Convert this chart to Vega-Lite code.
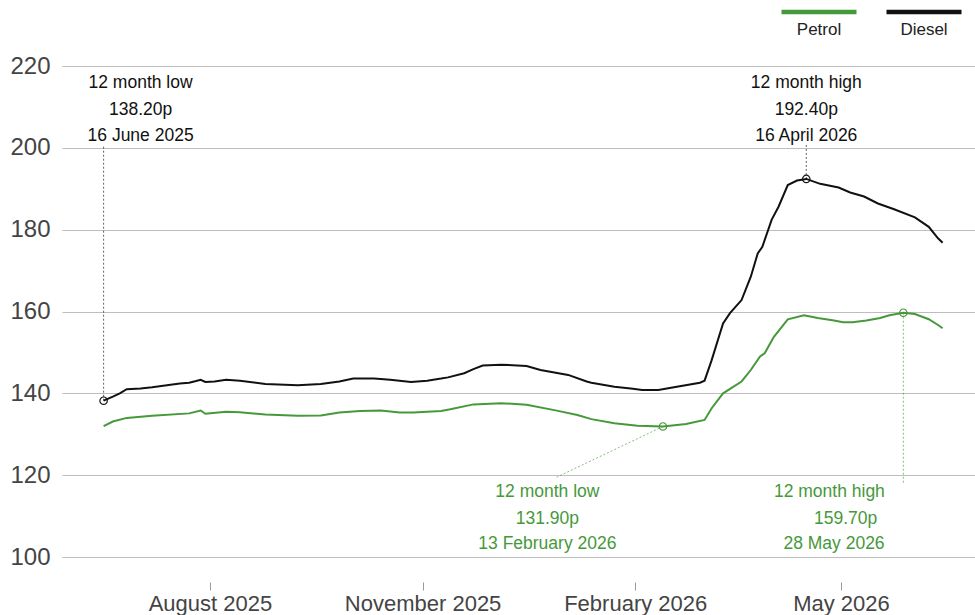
{
  "$schema": "https://vega.github.io/schema/vega-lite/v6.json",
  "width": 913,
  "height": 491,
  "autosize": {"type": "none"},
  "padding": {"left": 62, "top": 66, "right": 0, "bottom": 58},
  "background": "white",
  "config": {
    "view": {"stroke": null},
    "font": "Liberation Sans"
  },
  "datasets": {
    "prices": [
      {"fuel": "Diesel", "date": "2025-06-16", "price": 138.2},
      {"fuel": "Diesel", "date": "2025-06-20", "price": 139.2},
      {"fuel": "Diesel", "date": "2025-06-23", "price": 140.0},
      {"fuel": "Diesel", "date": "2025-06-26", "price": 141.0},
      {"fuel": "Diesel", "date": "2025-07-02", "price": 141.2},
      {"fuel": "Diesel", "date": "2025-07-07", "price": 141.5},
      {"fuel": "Diesel", "date": "2025-07-19", "price": 142.4},
      {"fuel": "Diesel", "date": "2025-07-23", "price": 142.6},
      {"fuel": "Diesel", "date": "2025-07-26", "price": 143.0},
      {"fuel": "Diesel", "date": "2025-07-28", "price": 143.3},
      {"fuel": "Diesel", "date": "2025-07-30", "price": 142.8},
      {"fuel": "Diesel", "date": "2025-08-03", "price": 142.9},
      {"fuel": "Diesel", "date": "2025-08-08", "price": 143.3},
      {"fuel": "Diesel", "date": "2025-08-14", "price": 143.1},
      {"fuel": "Diesel", "date": "2025-08-25", "price": 142.3},
      {"fuel": "Diesel", "date": "2025-09-08", "price": 142.0},
      {"fuel": "Diesel", "date": "2025-09-18", "price": 142.3},
      {"fuel": "Diesel", "date": "2025-09-26", "price": 142.9},
      {"fuel": "Diesel", "date": "2025-10-02", "price": 143.6},
      {"fuel": "Diesel", "date": "2025-10-11", "price": 143.6},
      {"fuel": "Diesel", "date": "2025-10-18", "price": 143.3},
      {"fuel": "Diesel", "date": "2025-10-27", "price": 142.8},
      {"fuel": "Diesel", "date": "2025-11-03", "price": 143.1},
      {"fuel": "Diesel", "date": "2025-11-09", "price": 143.6},
      {"fuel": "Diesel", "date": "2025-11-12", "price": 143.9},
      {"fuel": "Diesel", "date": "2025-11-19", "price": 144.9},
      {"fuel": "Diesel", "date": "2025-11-23", "price": 145.9},
      {"fuel": "Diesel", "date": "2025-11-27", "price": 146.8},
      {"fuel": "Diesel", "date": "2025-12-05", "price": 147.0},
      {"fuel": "Diesel", "date": "2025-12-16", "price": 146.7},
      {"fuel": "Diesel", "date": "2025-12-22", "price": 145.7},
      {"fuel": "Diesel", "date": "2026-01-03", "price": 144.5},
      {"fuel": "Diesel", "date": "2026-01-11", "price": 142.9},
      {"fuel": "Diesel", "date": "2026-01-13", "price": 142.6},
      {"fuel": "Diesel", "date": "2026-01-23", "price": 141.6},
      {"fuel": "Diesel", "date": "2026-01-31", "price": 141.1},
      {"fuel": "Diesel", "date": "2026-02-04", "price": 140.8},
      {"fuel": "Diesel", "date": "2026-02-11", "price": 140.8},
      {"fuel": "Diesel", "date": "2026-02-19", "price": 141.6},
      {"fuel": "Diesel", "date": "2026-03-01", "price": 142.6},
      {"fuel": "Diesel", "date": "2026-03-03", "price": 143.1},
      {"fuel": "Diesel", "date": "2026-03-06", "price": 148.0},
      {"fuel": "Diesel", "date": "2026-03-11", "price": 157.1},
      {"fuel": "Diesel", "date": "2026-03-14", "price": 159.6},
      {"fuel": "Diesel", "date": "2026-03-19", "price": 162.8},
      {"fuel": "Diesel", "date": "2026-03-23", "price": 168.5},
      {"fuel": "Diesel", "date": "2026-03-26", "price": 174.2},
      {"fuel": "Diesel", "date": "2026-03-28", "price": 175.8},
      {"fuel": "Diesel", "date": "2026-04-01", "price": 182.4},
      {"fuel": "Diesel", "date": "2026-04-04", "price": 185.6},
      {"fuel": "Diesel", "date": "2026-04-08", "price": 190.9},
      {"fuel": "Diesel", "date": "2026-04-12", "price": 192.0},
      {"fuel": "Diesel", "date": "2026-04-16", "price": 192.4},
      {"fuel": "Diesel", "date": "2026-04-22", "price": 191.2},
      {"fuel": "Diesel", "date": "2026-04-30", "price": 190.3},
      {"fuel": "Diesel", "date": "2026-05-05", "price": 189.1},
      {"fuel": "Diesel", "date": "2026-05-11", "price": 188.1},
      {"fuel": "Diesel", "date": "2026-05-17", "price": 186.4},
      {"fuel": "Diesel", "date": "2026-05-24", "price": 185.0},
      {"fuel": "Diesel", "date": "2026-06-02", "price": 183.0},
      {"fuel": "Diesel", "date": "2026-06-08", "price": 180.7},
      {"fuel": "Diesel", "date": "2026-06-12", "price": 177.9},
      {"fuel": "Diesel", "date": "2026-06-14", "price": 176.8},
      {"fuel": "Petrol", "date": "2025-06-16", "price": 132.0},
      {"fuel": "Petrol", "date": "2025-06-20", "price": 133.1},
      {"fuel": "Petrol", "date": "2025-06-26", "price": 134.0},
      {"fuel": "Petrol", "date": "2025-07-07", "price": 134.5},
      {"fuel": "Petrol", "date": "2025-07-23", "price": 135.1},
      {"fuel": "Petrol", "date": "2025-07-28", "price": 135.8},
      {"fuel": "Petrol", "date": "2025-07-30", "price": 135.0},
      {"fuel": "Petrol", "date": "2025-08-08", "price": 135.5},
      {"fuel": "Petrol", "date": "2025-08-14", "price": 135.4},
      {"fuel": "Petrol", "date": "2025-08-25", "price": 134.8},
      {"fuel": "Petrol", "date": "2025-09-08", "price": 134.5},
      {"fuel": "Petrol", "date": "2025-09-18", "price": 134.6},
      {"fuel": "Petrol", "date": "2025-09-26", "price": 135.3},
      {"fuel": "Petrol", "date": "2025-10-05", "price": 135.7},
      {"fuel": "Petrol", "date": "2025-10-14", "price": 135.8},
      {"fuel": "Petrol", "date": "2025-10-22", "price": 135.3},
      {"fuel": "Petrol", "date": "2025-10-28", "price": 135.3},
      {"fuel": "Petrol", "date": "2025-11-09", "price": 135.7},
      {"fuel": "Petrol", "date": "2025-11-13", "price": 136.1},
      {"fuel": "Petrol", "date": "2025-11-23", "price": 137.3},
      {"fuel": "Petrol", "date": "2025-12-05", "price": 137.6},
      {"fuel": "Petrol", "date": "2025-12-16", "price": 137.2},
      {"fuel": "Petrol", "date": "2025-12-28", "price": 135.9},
      {"fuel": "Petrol", "date": "2026-01-07", "price": 134.7},
      {"fuel": "Petrol", "date": "2026-01-13", "price": 133.7},
      {"fuel": "Petrol", "date": "2026-01-23", "price": 132.7},
      {"fuel": "Petrol", "date": "2026-02-02", "price": 132.1},
      {"fuel": "Petrol", "date": "2026-02-13", "price": 131.9},
      {"fuel": "Petrol", "date": "2026-02-23", "price": 132.5},
      {"fuel": "Petrol", "date": "2026-03-03", "price": 133.5},
      {"fuel": "Petrol", "date": "2026-03-06", "price": 136.3},
      {"fuel": "Petrol", "date": "2026-03-11", "price": 140.0},
      {"fuel": "Petrol", "date": "2026-03-19", "price": 142.9},
      {"fuel": "Petrol", "date": "2026-03-23", "price": 145.7},
      {"fuel": "Petrol", "date": "2026-03-27", "price": 149.0},
      {"fuel": "Petrol", "date": "2026-03-29", "price": 149.8},
      {"fuel": "Petrol", "date": "2026-04-02", "price": 153.8},
      {"fuel": "Petrol", "date": "2026-04-08", "price": 158.1},
      {"fuel": "Petrol", "date": "2026-04-15", "price": 159.1},
      {"fuel": "Petrol", "date": "2026-04-21", "price": 158.4},
      {"fuel": "Petrol", "date": "2026-04-28", "price": 157.8},
      {"fuel": "Petrol", "date": "2026-05-02", "price": 157.4},
      {"fuel": "Petrol", "date": "2026-05-06", "price": 157.4},
      {"fuel": "Petrol", "date": "2026-05-12", "price": 157.8},
      {"fuel": "Petrol", "date": "2026-05-18", "price": 158.4},
      {"fuel": "Petrol", "date": "2026-05-22", "price": 159.1},
      {"fuel": "Petrol", "date": "2026-05-28", "price": 159.7},
      {"fuel": "Petrol", "date": "2026-06-02", "price": 159.4},
      {"fuel": "Petrol", "date": "2026-06-08", "price": 158.1},
      {"fuel": "Petrol", "date": "2026-06-12", "price": 156.7},
      {"fuel": "Petrol", "date": "2026-06-14", "price": 155.9}
    ],
    "extremes": [
      {"fuel": "Diesel", "date": "2025-06-16", "price": 138.2},
      {"fuel": "Diesel", "date": "2026-04-16", "price": 192.4},
      {"fuel": "Petrol", "date": "2026-02-13", "price": 131.9},
      {"fuel": "Petrol", "date": "2026-05-28", "price": 159.7}
    ],
    "leaders": [
      {"fuel": "Diesel", "date": "2025-06-16", "price": 138.2, "date2": "2025-06-16", "price2": 200.5},
      {"fuel": "Diesel", "date": "2026-04-16", "price": 192.4, "date2": "2026-04-16", "price2": 201.0},
      {"fuel": "Petrol", "date": "2026-02-13", "price": 131.9, "date2": "2025-12-29", "price2": 119.5},
      {"fuel": "Petrol", "date": "2026-05-28", "price": 159.7, "date2": "2026-05-28", "price2": 118.1}
    ],
    "notes": [
      {"fuel": "Diesel", "date": "2025-07-02", "price": 214.55, "label": "12 month low"},
      {"fuel": "Diesel", "date": "2025-07-02", "price": 208.0, "label": "138.20p"},
      {"fuel": "Diesel", "date": "2025-07-02", "price": 201.74, "label": "16 June 2025"},
      {"fuel": "Diesel", "date": "2026-04-16", "price": 214.55, "label": "12 month high"},
      {"fuel": "Diesel", "date": "2026-04-16", "price": 208.0, "label": "192.40p"},
      {"fuel": "Diesel", "date": "2026-04-16", "price": 201.74, "label": "16 April 2026"},
      {"fuel": "Petrol", "date": "2025-12-25", "price": 114.6, "label": "12 month low"},
      {"fuel": "Petrol", "date": "2025-12-25", "price": 108.1, "label": "131.90p"},
      {"fuel": "Petrol", "date": "2025-12-25", "price": 101.9, "label": "13 February 2026"},
      {"fuel": "Petrol", "date": "2026-04-26", "price": 114.6, "label": "12 month high"},
      {"fuel": "Petrol", "date": "2026-05-03", "price": 108.1, "label": "159.70p"},
      {"fuel": "Petrol", "date": "2026-04-28", "price": 101.9, "label": "28 May 2026"}
    ]
  },
  "layer": [
    {
      "data": {"name": "prices"},
      "mark": {"type": "line", "strokeWidth": 2, "interpolate": "linear"},
      "encoding": {
        "x": {
          "field": "date", "type": "temporal",
          "scale": {"type": "utc", "domain": [
            {"year": 2025, "month": 5, "date": 29, "utc": true},
            {"year": 2026, "month": 6, "date": 28, "utc": true}
          ]},
          "axis": {
            "title": null, "orient": "bottom", "offset": 25, "domain": false,
            "tickSize": 8, "tickColor": "#999", "tickWidth": 1,
            "values": [
              {"year": 2025, "month": 8, "date": 1, "utc": true},
              {"year": 2025, "month": 11, "date": 1, "utc": true},
              {"year": 2026, "month": 2, "date": 1, "utc": true},
              {"year": 2026, "month": 5, "date": 1, "utc": true}
            ],
            "labelExpr": "utcFormat(datum.value, '%B %Y')",
            "labelFontSize": 22, "labelColor": "#444", "labelPadding": 3,
            "labelFont": "Liberation Sans",
            "grid": true, "gridColor": "white", "gridWidth": 1.5
          }
        },
        "y": {
          "field": "price", "type": "quantitative",
          "scale": {"domain": [100, 220], "nice": false, "zero": false},
          "axis": {
            "title": null, "domain": false, "ticks": false,
            "values": [100, 120, 140, 160, 180, 200, 220],
            "labelFontSize": 24, "labelColor": "#444", "labelPadding": 12,
            "labelFont": "Liberation Sans",
            "grid": true, "gridColor": "#bdbdbd", "gridWidth": 1
          }
        },
        "color": {
          "field": "fuel", "type": "nominal",
          "scale": {"domain": ["Petrol", "Diesel"], "range": ["#46993a", "#111111"]},
          "legend": {
            "title": null, "orient": "none", "legendX": 717, "legendY": -94,
            "direction": "horizontal", "padding": 0,
            "symbolType": "stroke", "symbolSize": 5625, "symbolStrokeWidth": 4.5,
            "labelFontSize": 17, "labelFont": "Liberation Sans", "labelColor": "#222",
            "labelAlign": "center", "labelOffset": -40, "columnPadding": 11,
            "encode": {"labels": {"update": {"dy": {"value": 18}}}}
          }
        }
      }
    },
    {
      "data": {"name": "leaders"},
      "mark": {"type": "rule", "strokeDash": [2, 2], "strokeWidth": 1, "opacity": 0.65},
      "encoding": {
        "x": {"field": "date", "type": "temporal"},
        "x2": {"field": "date2"},
        "y": {"field": "price", "type": "quantitative"},
        "y2": {"field": "price2"},
        "color": {"field": "fuel", "type": "nominal", "legend": null}
      }
    },
    {
      "data": {"name": "extremes"},
      "mark": {"type": "point", "filled": false, "size": 55, "strokeWidth": 1.2, "opacity": 1},
      "encoding": {
        "x": {"field": "date", "type": "temporal"},
        "y": {"field": "price", "type": "quantitative"},
        "color": {"field": "fuel", "type": "nominal", "legend": null}
      }
    },
    {
      "data": {"name": "notes"},
      "mark": {"type": "text", "fontSize": 17.5, "font": "Liberation Sans", "align": "center", "baseline": "alphabetic"},
      "encoding": {
        "x": {"field": "date", "type": "temporal"},
        "y": {"field": "price", "type": "quantitative"},
        "text": {"field": "label"},
        "color": {"field": "fuel", "type": "nominal", "legend": null}
      }
    }
  ]
}
